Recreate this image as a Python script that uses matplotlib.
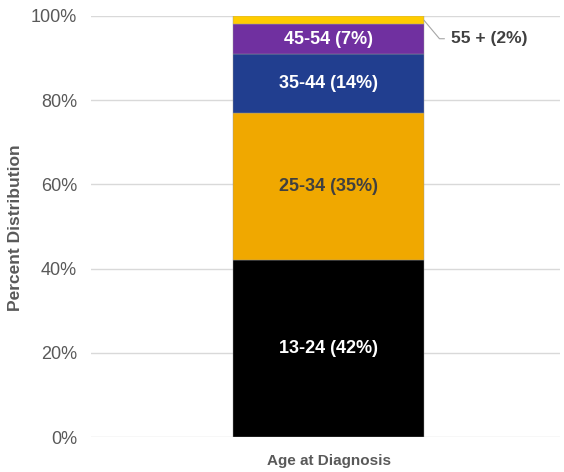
import matplotlib.pyplot as plt

plt.rcParams['font.family'] = ['Liberation Sans', 'DejaVu Sans']

# data
groups = ["13-24", "25-34", "35-44", "45-54", "55 +"]
shares = [42, 35, 14, 7, 2]
colors = ["#000000", "#F0A800", "#213E8F", "#7030A0", "#FFCC00"]
text_colors = ["white", "#404040", "white", "white", "#404040"]
category = "Age at Diagnosis"
yticks = [0, 20, 40, 60, 80, 100]

fig = plt.figure(figsize=(5.64, 4.72), dpi=100)
ax = fig.add_axes([91 / 564, 35 / 472, 469 / 564, 421 / 472])

bottom = 0
for g, v, c, tc in zip(groups, shares, colors, text_colors):
    ax.bar(0, v, width=0.407, bottom=bottom, color=c, edgecolor='#9a9a9a',
           linewidth=0.3, zorder=3)
    if v >= 5:
        ax.text(0, bottom + v / 2, f"{g} ({v}%)", ha='center', va='center',
                color=tc, fontsize=13, fontweight='bold', zorder=4)
    else:
        # small slice gets a leader line label
        ax.annotate(f"{g} ({v}%)", xy=(0.2035, bottom + v / 2),
                    xytext=(0.262, 94.6), ha='left', va='center',
                    fontsize=12.5, fontweight='bold', color='#404040',
                    arrowprops=dict(arrowstyle='-', color='#a6a6a6', lw=0.8,
                                    shrinkA=3, shrinkB=0,
                                    connectionstyle='angle,angleA=0,angleB=-50,rad=0'))
    bottom += v

ax.set_xlim(-0.5064, 0.4936)
ax.set_ylim(0, 100)
ax.set_yticks(yticks)
ax.set_yticklabels([f"{t}%" for t in yticks])
ax.set_xticks([0])
ax.set_xticklabels([category])
ax.tick_params(length=0, colors='#595959', labelsize=13)
ax.tick_params(axis='x', labelsize=11, pad=12)
for lab in ax.get_xticklabels():
    lab.set_fontweight('bold')
ax.tick_params(axis='y', pad=10)
ax.grid(axis='y', color='#d9d9d9', linewidth=1, zorder=0)
for s in ax.spines.values():
    s.set_visible(False)

fig.text(16 / 564, 1 - 228 / 472, "Percent Distribution", rotation=90,
         ha='center', va='center', fontsize=12.5, fontweight='bold', color='#595959')

fig.savefig('out.png', dpi=100)
